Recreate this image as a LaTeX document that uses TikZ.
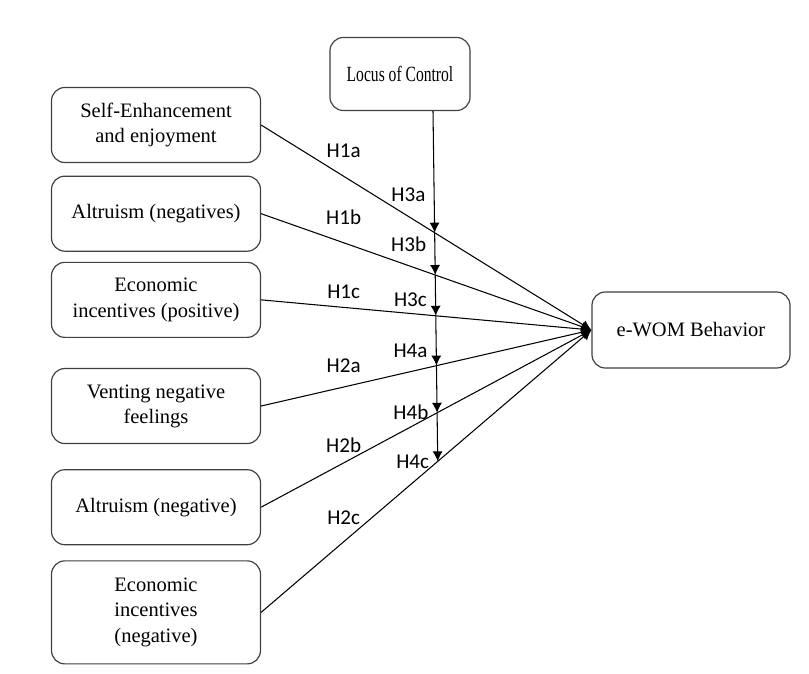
\documentclass[tikz,border=0pt]{standalone}
\usepackage{fontspec}
\setmainfont{Liberation Serif}
\newfontfamily\hypfont{Carlito}
\newfontfamily\locusfont[FakeStretch=0.72]{Liberation Serif}
\usetikzlibrary{arrows.meta, positioning, intersections}
\tikzset{%
  >={Latex[width=3mm,length=3mm]},
  % Specifications for style of nodes:
  base/.style = {draw=black!75, line width=1pt, rounded corners=0.4cm,
                 align=center, fill=white,
                 font=\fontsize{17.5}{21.5}\selectfont},
  motive/.style = {base, minimum width=6.27cm, minimum height=2.25cm},
  moderator/.style = {base, minimum width=4.2cm, minimum height=2.19cm},
  outcome/.style = {base, minimum width=5.94cm, minimum height=2.28cm},
  hyp/.style = {font=\hypfont\fontsize{18}{20}\selectfont, inner sep=1pt},
  norm/.style = {->, draw, black, line width=0.9pt},
}

\begin{document}
\begin{tikzpicture}[x=0.03cm, y=-0.03cm]
  \useasboundingbox [fill=white] (0,0) rectangle (809,674);
  % Specification of nodes (position, etc.)
  \node (loc) [moderator] at (400,74) {\locusfont\fontsize{18.5}{22}\selectfont Locus of Control};

  \node (b1) [motive] at (156,125) {Self-Enhancement\\ and enjoyment};
  \node (b2) [motive, below=0.375cm of b1] {Altruism (negatives)};
  \node (b3) [motive, below=0.3cm of b2] {Economic\\ incentives (positive)};
  \node (b4) [motive, below=0.9cm of b3] {Venting negative\\ feelings};
  \node (b5) [motive, below=0.75cm of b4] {Altruism (negative)};
  \node (b6) [motive, below=0.45cm of b5, minimum height=3.09cm] {Economic\\ incentives\\ (negative)};

  \node (ew) [outcome] at (691,330) {e-WOM Behavior};

  % direct effects
  \foreach \i/\lab/\off in {1/H1a/14pt, 2/H1b/14pt, 3/H1c/6pt, 4/H2a/10.5pt, 5/H2b/7pt, 6/H2c/13pt}
    \draw [norm, name path global=h\i] (b\i.east) -- node [hyp, pos=0.25, above=\off] {\lab} (ew.west);

  % moderating line
  \coordinate (vtop) at ([xshift=0.99cm]loc.south);
  \coordinate (vbot) at (438,480);
  \path [name path global=vert] (vtop) -- (vbot);
  \foreach \i in {1,...,6}
    \path [name intersections={of=vert and h\i, by=m\i}];

  \foreach \a/\b/\lab/\p in {vtop/m1/H3a/0.69, m1/m2/H3b/0.27, m2/m3/H3c/0.61,
                             m3/m4/H4a/0.71, m4/m5/H4b/0.98, m5/m6/H4c/1}
    \draw [norm] (\a) -- node [hyp, left=6pt, pos=\p] {\lab} (\b);
\end{tikzpicture}
\end{document}
